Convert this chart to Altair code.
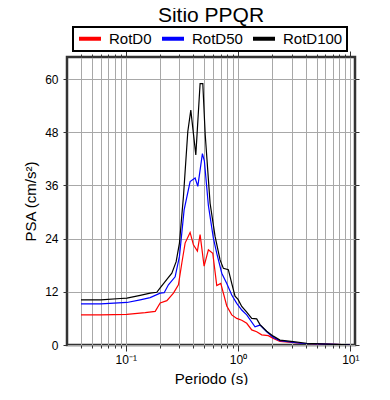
import altair as alt
import pandas as pd

# ---- data ----
series_names = ["RotD0", "RotD50", "RotD100"]
series_colors = ["#ff0000", "#0000ff", "#000000"]

rotd0_period = [0.04, 0.06, 0.1025, 0.149, 0.183, 0.2026, 0.2324, 0.266, 0.2946, 0.3159,
                0.3379, 0.3743, 0.4006, 0.4346, 0.4594, 0.4986, 0.5445, 0.5957, 0.6465,
                0.7018, 0.7937, 0.8789, 0.9737, 1.079, 1.195, 1.324, 1.466, 1.624, 1.859,
                2.06, 2.362, 3.557, 6.143, 9.9]
rotd0_psa = [6.8, 6.8, 6.9, 7.3, 7.6, 9.5, 10.0, 11.7, 13.6, 18.5,
             23.0, 25.4, 22.6, 21.2, 24.9, 17.8, 21.5, 20.7, 13.4,
             13.9, 8.8, 6.8, 6.0, 5.6, 4.9, 3.4, 3.0, 2.3, 2.1,
             1.5, 0.8, 0.4, 0.2, 0.05]

rotd50_period = [0.04, 0.06, 0.1025, 0.1345, 0.165, 0.2026, 0.22, 0.24, 0.2754, 0.3008,
                 0.3311, 0.3743, 0.4148, 0.4383, 0.4817, 0.5017, 0.5445, 0.6031, 0.6465,
                 0.7163, 0.7937, 0.8789, 0.9737, 1.079, 1.195, 1.416, 1.569, 1.799,
                 2.06, 2.362, 3.557, 6.143, 9.9]
rotd50_psa = [9.3, 9.3, 9.6, 10.2, 10.7, 11.7, 11.8, 13.6, 15.4, 20.0,
              30.5, 36.9, 37.7, 35.8, 43.2, 41.5, 31.5, 24.1, 20.7,
              16.2, 13.9, 11.3, 9.4, 7.9, 6.8, 4.1, 4.5, 3.0,
              1.7, 1.0, 0.4, 0.2, 0.05]

rotd100_period = [0.04, 0.06, 0.09, 0.1025, 0.1345, 0.165, 0.189, 0.2026, 0.2324, 0.2574,
                  0.2812, 0.3008, 0.3265, 0.3571, 0.3797, 0.4207, 0.4594, 0.4856, 0.51,
                  0.5638, 0.6245, 0.6918, 0.7404, 0.8197, 0.8789, 0.94, 1.0, 1.079, 1.195,
                  1.324, 1.466, 1.569, 1.799, 2.06, 2.362, 3.101, 4.08, 6.143, 9.9]
rotd100_psa = [10.2, 10.2, 10.5, 10.6, 11.2, 11.7, 11.9, 12.9, 14.8, 16.2,
               18.8, 23.0, 33.5, 48.2, 53.0, 42.9, 59.0, 59.0, 47.5,
               32.0, 24.5, 19.2, 17.3, 17.0, 13.9, 11.0, 10.3, 8.7, 7.4,
               6.0, 5.9, 4.6, 3.1, 2.0, 1.1, 0.75, 0.4, 0.2, 0.05]

x_tick_values = [0.04, 0.05, 0.06, 0.07, 0.08, 0.09,
                 0.1, 0.2, 0.3, 0.4, 0.5, 0.6, 0.7, 0.8, 0.9,
                 1, 2, 3, 4, 5, 6, 7, 8, 9, 10]
y_tick_values = [0, 12, 24, 36, 48, 60]

frames = []
for name, per, val in [("RotD0", rotd0_period, rotd0_psa),
                       ("RotD50", rotd50_period, rotd50_psa),
                       ("RotD100", rotd100_period, rotd100_psa)]:
    frames.append(pd.DataFrame({"series": name, "period": per, "psa": val}))
df = pd.concat(frames, ignore_index=True)

FONT = "Liberation Sans"
major_test = "abs(log(datum.value)/LN10 - round(log(datum.value)/LN10)) < 0.001"
label_expr = ("abs(datum.value - 0.1) < 1e-6 ? '10\u207b\u00b9' : "
              "(abs(datum.value - 1) < 1e-6 ? '10\u2070' : "
              "(abs(datum.value - 10) < 1e-6 ? '10\u00b9' : ''))")

x_scale = alt.Scale(type="log", domain=[0.03, 11], nice=False)
y_scale = alt.Scale(domain=[0, 65], nice=False, zero=False)

lines = alt.Chart(df).mark_line(strokeWidth=1.2, clip=True).encode(
    x=alt.X("period:Q", scale=x_scale,
            axis=alt.Axis(orient="bottom", values=x_tick_values, grid=True,
                          tickSize={"condition": {"test": major_test, "value": 6}, "value": 3},
                          labelExpr=label_expr, labelOverlap=False, labelFlush=False,
                          labelFontSize=12, labelPadding=3, title="Periodo (s)",
                          titlePadding=6)),
    y=alt.Y("psa:Q", scale=y_scale,
            axis=alt.Axis(orient="left", values=y_tick_values, grid=True, tickSize=4,
                          labelFontSize=12, labelPadding=5, title="PSA (cm/s\u00b2)",
                          titlePadding=6)),
    color=alt.Color("series:N",
                    scale=alt.Scale(domain=series_names, range=series_colors),
                    legend=alt.Legend(title=None, orient="none", legendX=6, legendY=-30,
                                      direction="horizontal")),
    detail="series:N",
)

frame_axes = alt.Chart(df).mark_line(opacity=0).encode(
    x=alt.X("period:Q", scale=x_scale,
            axis=alt.Axis(orient="top", values=x_tick_values, grid=False, labels=False,
                          tickSize={"condition": {"test": major_test, "value": 6}, "value": 3},
                          title=None)),
    y=alt.Y("psa:Q", scale=y_scale,
            axis=alt.Axis(orient="right", values=y_tick_values, grid=False, labels=False,
                          tickSize=4, title=None)),
)

chart = alt.layer(lines, frame_axes).properties(
    width=288, height=288,
    autosize=alt.AutoSizeParams(type="none"),
    padding={"left": 59, "top": 49, "right": 20, "bottom": 40},
    title=alt.TitleParams("Sitio PPQR", fontSize=21, font=FONT, fontWeight="normal",
                          anchor="middle", offset=0, color="#000000"),
).configure_view(
    stroke="#333333", strokeWidth=2.5
).configure_axis(
    domain=False, tickColor="#333333", tickWidth=1,
    gridColor="#a8a8a8", gridWidth=1, gridOpacity=1,
    labelFont=FONT, labelColor="#000000", titleFont=FONT, titleFontSize=15,
    titleFontWeight="normal", titleColor="#000000",
).configure_legend(
    strokeColor="#000000", strokeWidth=2, fillColor="#ffffff", padding=4,
    cornerRadius=0, symbolType="stroke", symbolStrokeWidth=4, symbolSize=484,
    labelFont=FONT, labelFontSize=15, labelColor="#000000", labelOffset=6,
    columnPadding=8, clipHeight=15,
)

chart.save("out.html", embed_options={"renderer": "svg", "actions": False})
